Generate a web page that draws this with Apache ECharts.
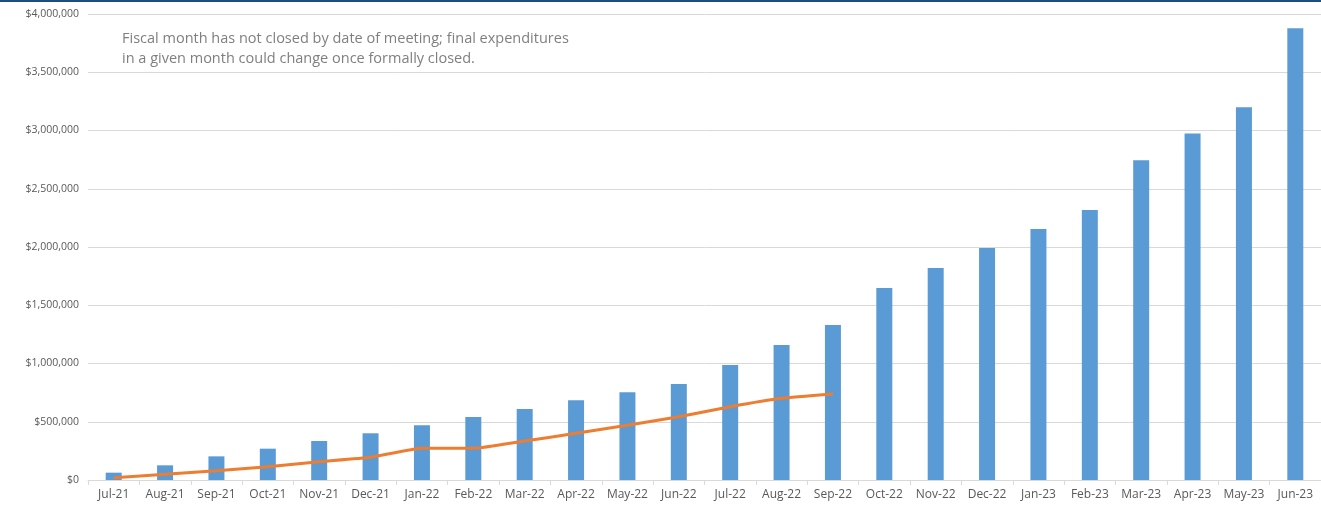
<!DOCTYPE html>
<html>
<head>
<meta charset="utf-8">
<script src="https://cdn.jsdelivr.net/npm/echarts@6/dist/echarts.min.js"></script>
<style>
html,body{margin:0;padding:0;background:#fff;}
#chart{width:1321px;height:506px;}
</style>
</head>
<body>
<div id="chart"></div>
<script>
const categories = ["Jul-21","Aug-21","Sep-21","Oct-21","Nov-21","Dec-21","Jan-22","Feb-22","Mar-22","Apr-22","May-22","Jun-22","Jul-22","Aug-22","Sep-22","Oct-22","Nov-22","Dec-22","Jan-23","Feb-23","Mar-23","Apr-23","May-23","Jun-23"];
const barValues = [63000,126000,203000,269000,335000,401000,470000,541000,609000,684000,753000,824000,987000,1159000,1330000,1648000,1820000,1991000,2155000,2318000,2744000,2975000,3200000,3877000];
const lineValues = [20000,49000,80000,114000,157000,195000,272000,272000,335000,401000,470000,543000,629000,701000,738000];
const noteLines = ["Fiscal month has not closed by date of meeting; final expenditures","in a given month could change once formally closed."];

const chart = echarts.init(document.getElementById('chart'));
const fmt = v => '$' + v.toLocaleString('en-US');
chart.setOption({
  animation:false,
  backgroundColor:'#fff',
  grid:{left:88,right:0,top:14,bottom:26,containLabel:false},
  xAxis:{
    type:'category',
    data:categories,
    boundaryGap:true,
    axisLine:{lineStyle:{color:'#d9d9d9',width:1}},
    axisTick:{show:true,alignWithLabel:false,length:5,lineStyle:{color:'#d9d9d9'}},
    axisLabel:{color:'#595959',fontFamily:'Open Sans',fontSize:12,margin:9,interval:0}
  },
  yAxis:{
    type:'value',
    min:0,max:4000000,interval:500000,
    axisLine:{show:false},
    axisTick:{show:false},
    splitLine:{lineStyle:{color:'#d9d9d9',width:1}},
    axisLabel:{color:'#595959',fontFamily:'Open Sans',fontSize:10.5,margin:9,formatter:fmt}
  },
  series:[
    {type:'bar',data:barValues,barWidth:16,itemStyle:{color:'#5B9BD5'},z:2},
    {type:'line',data:lineValues,symbol:'none',smooth:0.15,lineStyle:{color:'#ED7D31',width:3},z:3}
  ],
  graphic:[
    {type:'rect',left:0,top:0,shape:{width:1321,height:2},style:{fill:'#1F4E79'}},
    {type:'text',left:122,top:29,style:{text:noteLines.join('\n'),fill:'#7f7f7f',font:'14.5px "Open Sans"',lineHeight:20}}
  ]
});
</script>
</body>
</html>
